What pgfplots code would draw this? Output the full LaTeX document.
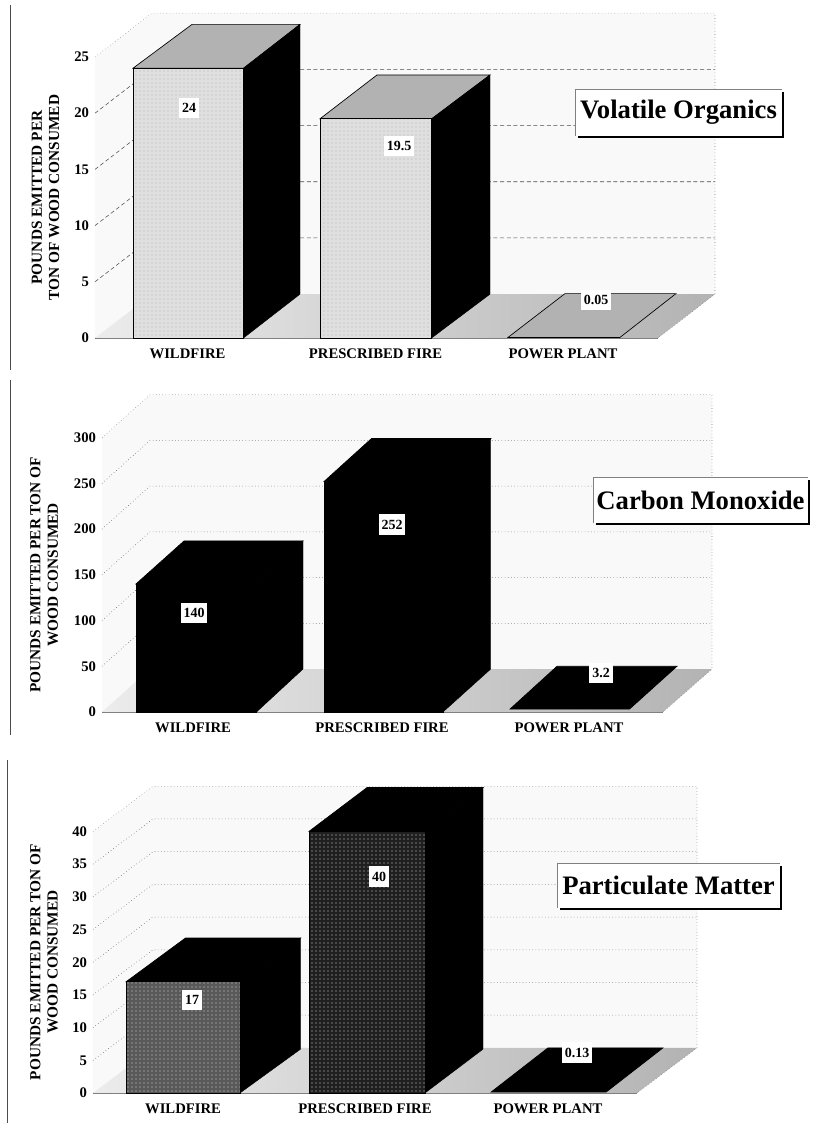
\documentclass[border=0pt]{standalone}
\usepackage{fontspec}
\setmainfont{Liberation Serif}
\usepackage{pgfplots}
\pgfplotsset{compat=1.18}
\usetikzlibrary{patterns}
\definecolor{wallc}{gray}{0.975}
\definecolor{gridc}{gray}{0.3}
\pgfplotsset{panel/.style={
  scale only axis, clip=false, ymin=0,
  axis y line*=left, axis x line*=bottom,
  axis line style={gray,line width=0.4pt,-},
  tick style={gray,line width=0.4pt},
  xticklabels={WILDFIRE,PRESCRIBED FIRE,POWER PLANT},
  major x tick style={draw=none},
  minor tick length=3pt, major tick length=2pt,
  tick label style={font=\bfseries\fontsize{11}{12}\selectfont},
  /pgf/number format/assume math mode=true,
  xticklabel style={yshift=-4.5pt},
  yticklabel style={xshift=-1pt},
  ylabel style={align=center,font=\bfseries\fontsize{11.5}{13}\selectfont},
}}
\newcommand{\tdbar}[9]{%
  \addplot[ybar,bar width=#4,draw=black,line width=0.5pt,fill=#8,postaction={pattern=dots,pattern color=#9}] coordinates {(#3,#5)};
}
\newcommand{\tdtop}[7]{%
  \addplot[fill=#6,draw=black,line width=0.5pt] coordinates {(#1,#5)(#3,#7)(#4,#7)(#2,#5)} --cycle;
}
\newcommand{\tdside}[6]{%
  \addplot[fill=black,draw=black,line width=0.3pt] coordinates {(#1,#2)(#3,#4)(#3,#5)(#1,0)} --cycle;
}
\newcommand{\lab}[3]{\node[fill=white,inner xsep=2.2pt,inner ysep=4pt,font=\bfseries\fontsize{10.5}{12}\selectfont] at (axis cs:#1,#2) {#3};}
\begin{document}
\begin{tikzpicture}
\path[use as bounding box] (0,0) rectangle (609.75pt,842.25pt);
% ---------- panel 1
\begin{axis}[panel, at={(71.25pt,588.75pt)}, anchor=south west,
  width=422.25pt, height=210.75pt, xmin=95, xmax=658, ymax=25,
  xtick={187.5,375.6,563}, minor xtick={281,469,658},
  ytick={0,5,10,15,20,25},
  ylabel={POUNDS EMITTED PER\\TON OF WOOD CONSUMED},
  ylabel style={at={(axis description cs:-0.055,0.5)},anchor=south}]
\addplot[fill=wallc,draw=none] coordinates {(95,0)(152,3.9)(152,28.9)(95,25)} --cycle;
\addplot[fill=wallc,draw=none] coordinates {(152,3.9)(715,3.9)(715,28.9)(152,28.9)} --cycle;
\addplot[left color=gray!15,right color=gray!60,draw=none] coordinates {(95,0)(658,0)(715,3.9)(152,3.9)} --cycle;
\addplot[gridc,densely dashed] coordinates {(95,5)(152,8.9)(715,8.9)};
\addplot[gridc,densely dashed] coordinates {(95,10)(152,13.9)(715,13.9)};
\addplot[gridc,densely dashed] coordinates {(95,15)(152,18.9)(715,18.9)};
\addplot[gridc,densely dashed] coordinates {(95,20)(152,23.9)(715,23.9)};
\addplot[gray,dotted] coordinates {(95,25)(152,28.9)(715,28.9)(715,3.9)(658,0)};
\tdtop{133}{243.5}{192}{300}{24}{gray!60}{27.9}
\tdside{243.5}{24}{300}{27.9}{3.9}{}
\tdbar{133}{243.5}{188.25}{110.5}{24}{}{}{gray!25}{gray!60}
\tdtop{320}{431.6}{377}{490}{19.5}{gray!60}{23.4}
\tdside{431.6}{19.5}{490}{23.4}{3.9}{}
\tdbar{320}{431.6}{375.8}{111.6}{19.5}{}{}{gray!25}{gray!60}
\tdtop{508}{620}{565}{676}{0.05}{gray!60}{3.95}
\lab{189}{20.5}{24}
\lab{399}{17.1}{19.5}
\lab{596}{3.4}{0.05}
\end{axis}
% ---------- panel 2
\begin{axis}[panel, at={(76.5pt,308.25pt)}, anchor=south west,
  width=420.75pt, height=205.75pt, xmin=102, xmax=663, ymax=300,
  xtick={193,382,569}, minor xtick={287,475,663},
  ytick={0,50,100,150,200,250,300},
  ylabel={POUNDS EMITTED PER TON OF\\WOOD CONSUMED},
  ylabel style={at={(axis description cs:-0.07,0.5)},anchor=south}]
\addplot[fill=wallc,draw=none] coordinates {(102,0)(150,47)(150,347)(102,300)} --cycle;
\addplot[fill=wallc,draw=none] coordinates {(150,47)(712,47)(712,347)(150,347)} --cycle;
\addplot[left color=gray!15,right color=gray!60,draw=none] coordinates {(102,0)(663,0)(712,47)(150,47)} --cycle;
\addplot[gridc,dotted] coordinates {(102,50)(150,97)(712,97)};
\addplot[gridc,dotted] coordinates {(102,100)(150,147)(712,147)};
\addplot[gridc,dotted] coordinates {(102,150)(150,197)(712,197)};
\addplot[gridc,dotted] coordinates {(102,200)(150,247)(712,247)};
\addplot[gridc,dotted] coordinates {(102,250)(150,297)(712,297)};
\addplot[gray,dotted] coordinates {(102,300)(150,347)(712,347)(712,47)(663,0)};
\tdtop{136}{256.5}{184}{303}{140}{black}{187}
\tdside{256.5}{140}{303}{187}{47}{}
\tdbar{136}{256.5}{196.25}{120.5}{140}{}{}{black}{black}
\tdtop{324}{443}{371.5}{490.7}{252}{black}{299}
\tdside{443}{252}{490.7}{299}{47}{}
\tdbar{324}{443}{383.5}{119}{252}{}{}{black}{black}
\tdtop{510}{629.5}{557}{677}{3.2}{black}{50}
\lab{194}{108}{140}
\lab{392}{205}{252}
\lab{601}{43}{3.2}
\end{axis}
% ---------- panel 3
\begin{axis}[panel, at={(69.75pt,22.5pt)}, anchor=south west,
  width=408pt, height=196.2pt, xmin=93, xmax=637, ymax=40,
  xtick={183,365,548}, minor xtick={275,457,637},
  ytick={0,5,10,15,20,25,30,35,40},
  ylabel={POUNDS EMITTED PER TON OF\\WOOD CONSUMED},
  ylabel style={at={(axis description cs:-0.056,0.5)},anchor=south}]
\addplot[fill=wallc,draw=none] coordinates {(93,0)(153,6.9)(153,46.9)(93,40)} --cycle;
\addplot[fill=wallc,draw=none] coordinates {(153,6.9)(697,6.9)(697,46.9)(153,46.9)} --cycle;
\addplot[left color=gray!15,right color=gray!60,draw=none] coordinates {(93,0)(637,0)(697,6.9)(153,6.9)} --cycle;
\addplot[gridc,dotted] coordinates {(93,5)(153,11.9)(697,11.9)};
\addplot[gridc,dotted] coordinates {(93,10)(153,16.9)(697,16.9)};
\addplot[gridc,dotted] coordinates {(93,15)(153,21.9)(697,21.9)};
\addplot[gridc,dotted] coordinates {(93,20)(153,26.9)(697,26.9)};
\addplot[gridc,dotted] coordinates {(93,25)(153,31.9)(697,31.9)};
\addplot[gridc,dotted] coordinates {(93,30)(153,36.9)(697,36.9)};
\addplot[gridc,dotted] coordinates {(93,35)(153,41.9)(697,41.9)};
\addplot[gray,dotted] coordinates {(93,40)(153,46.9)(697,46.9)(697,6.9)(637,0)};
\tdtop{126}{240}{185.5}{300.5}{17}{black}{23.7}
\tdside{240}{17}{300.5}{23.7}{6.7}{}
\tdbar{126}{240}{183}{114}{17}{}{}{gray!70!black}{gray!30}
\tdtop{309}{425}{367}{483}{40}{black}{46.7}
\tdside{425}{40}{483}{46.7}{6.7}{}
\tdbar{309}{425}{367}{116}{40}{}{}{black!88}{gray!30}
\tdtop{491}{606}{548}{663}{0.13}{black}{6.9}
\lab{192}{14.2}{17}
\lab{379}{33.1}{40}
\lab{577}{6.2}{0.13}
\end{axis}
% ---------- title boxes and page marks
\begin{scope}[x=0.75pt,y=-0.75pt,yshift=842.25pt]
\draw[black!70,line width=0.4pt] (10,5) -- (10,370);
\draw[black!70,line width=0.4pt] (10,380) -- (10,735);
\draw[black!70,line width=0.4pt] (7,760) -- (7,1123);
\foreach \a/\b/\c/\d/\t in {575/89/782/136/Volatile Organics,593/477/808/523/Carbon Monoxide,557/863/780/908/Particulate Matter}{
  \fill[black] (\a+3,\b+3) rectangle (\c+2,\d+2);
  \fill[white] (\a,\b) rectangle (\c,\d);
  \draw[gray,line width=0.4pt] (\a,\d) -- (\a,\b) -- (\c,\b);
  \node[font=\bfseries\fontsize{20}{22}\selectfont] at ({(\a+\c)/2},{(\b+\d)/2}) {\t};
}
\end{scope}
\end{tikzpicture}
\end{document}
